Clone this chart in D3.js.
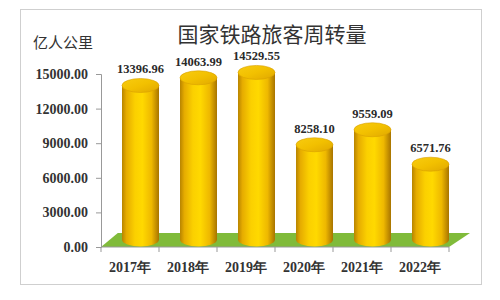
<!DOCTYPE html>
<html><head><meta charset="utf-8">
<script src="https://cdn.jsdelivr.net/npm/d3@7"></script>
<style>body{margin:0;background:#fff}svg{display:block}</style>
</head><body>
<script>
const years = ["2017年","2018年","2019年","2020年","2021年","2022年"];
const values = [13396.96, 14063.99, 14529.55, 8258.10, 9559.09, 6571.76];
const yTicks = [0, 3000, 6000, 9000, 12000, 15000];
const title = "国家铁路旅客周转量";
const unit = "亿人公里";

const W = 500, H = 300;
const svg = d3.select("body").append("svg").attr("width", W).attr("height", H);
const defs = svg.append("defs");
const g1 = defs.append("linearGradient").attr("id","body").attr("x1","0").attr("x2","1").attr("y1","0").attr("y2","0");
[[0,"#b88400"],[0.12,"#e6ac00"],[0.35,"#fbd000"],[0.55,"#ffd900"],[0.8,"#eeb800"],[1,"#a87400"]]
  .forEach(([o,c])=>g1.append("stop").attr("offset",o).attr("stop-color",c));
const g2 = defs.append("linearGradient").attr("id","top").attr("x1","0").attr("x2","1").attr("y1","0").attr("y2","1");
[[0,"#f8cc10"],[0.5,"#f2c000"],[1,"#e0a800"]]
  .forEach(([o,c])=>g2.append("stop").attr("offset",o).attr("stop-color",c));

svg.append("rect").attr("x",20.5).attr("y",9.5).attr("width",461).attr("height",275)
  .attr("fill","#fff").attr("stroke","#cfcfcf");

const x = d3.scaleBand().domain(years).range([101, 449]).padding(0);
const y = d3.scaleLinear().domain([0, 15000]).range([247, 74]);
const dx = 21, dy = -14;

// floor
svg.append("polygon")
  .attr("points", [[x.range()[0], y(0)],[x.range()[1], y(0)],[x.range()[1]+dx, y(0)+dy],[x.range()[0]+dx*0.8, y(0)+dy]].map(p=>p.join(",")).join(" "))
  .attr("fill","#80bb3a");

// axes
const yAxis = svg.append("g").attr("transform",`translate(${x.range()[0]},0)`)
  .call(d3.axisLeft(y).tickValues(yTicks).tickFormat(d=>d.toFixed(2)).tickSize(5).tickPadding(8));
yAxis.select(".domain").attr("stroke","#999");
yAxis.selectAll(".tick line").attr("stroke","#999");
yAxis.selectAll("text").attr("font-family","'Liberation Serif', serif").attr("font-weight","bold")
  .attr("font-size",14).attr("fill","#333");

const xg = svg.append("g").attr("transform",`translate(0,${y(0)})`);
xg.append("line").attr("x1",x.range()[0]).attr("x2",x.range()[1]).attr("stroke","#999");
const edges = years.map(d=>x(d)).concat([x.range()[1]]);
xg.selectAll("line.t").data(edges).join("line").attr("class","t")
  .attr("x1",d=>d).attr("x2",d=>d).attr("y1",0).attr("y2",5).attr("stroke","#999");
xg.selectAll("text").data(years).join("text")
  .attr("x",d=>x(d)+x.bandwidth()/2).attr("y",25)
  .attr("text-anchor","middle")
  .attr("font-family","'Liberation Serif', serif").attr("font-weight","bold")
  .attr("font-size",14).attr("fill","#333").text(d=>d);

// cylinders
const rx = 18.5, ry = 7;
const cyl = svg.append("g").selectAll("g").data(years.map((d,i)=>({d,v:values[i]}))).join("g");
cyl.each(function(p){
  const gg = d3.select(this);
  const cx = x(p.d) + x.bandwidth()/2 + dx/2;
  const yb = y(0) + dy/2 - 0.5;
  const yt = y(p.v) + dy/2;
  gg.append("path")
    .attr("d",`M${cx-rx},${yt} L${cx-rx},${yb} A${rx},${ry} 0 0 0 ${cx+rx},${yb} L${cx+rx},${yt} Z`)
    .attr("fill","url(#body)");
  gg.append("ellipse").attr("cx",cx).attr("cy",yt).attr("rx",rx).attr("ry",ry)
    .attr("fill","url(#top)").attr("stroke","#d9a000").attr("stroke-width",0.6);
  gg.append("text").attr("x",cx).attr("y",yt-ry-5).attr("text-anchor","middle")
    .attr("font-family","'Liberation Serif', serif").attr("font-weight","bold")
    .attr("font-size",12.5).attr("fill","#2a2a2a").text(p.v.toFixed(2));
});

svg.append("text").attr("x",272).attr("y",42).attr("text-anchor","middle")
  .attr("font-family","'Noto Sans CJK SC', sans-serif").attr("font-size",21).attr("fill","#333").text(title);
svg.append("text").attr("x",33).attr("y",48)
  .attr("font-family","'Noto Sans CJK SC', sans-serif").attr("font-size",15).attr("fill","#333").text(unit);
</script>
</body></html>
